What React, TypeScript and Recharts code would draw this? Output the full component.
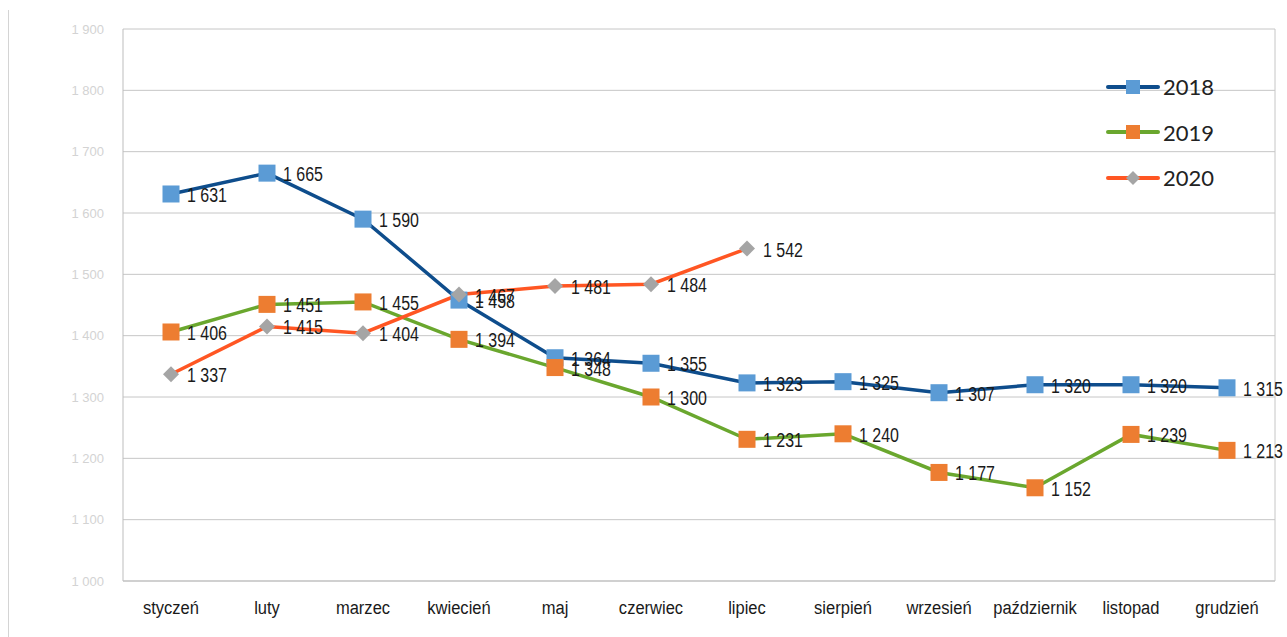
import { LineChart, Line, XAxis, YAxis, CartesianGrid, LabelList } from 'recharts';

const months = [
  'styczeń', 'luty', 'marzec', 'kwiecień', 'maj', 'czerwiec',
  'lipiec', 'sierpień', 'wrzesień', 'październik', 'listopad', 'grudzień',
];
const values2018 = [1631, 1665, 1590, 1458, 1364, 1355, 1323, 1325, 1307, 1320, 1320, 1315];
const values2019 = [1406, 1451, 1455, 1394, 1348, 1300, 1231, 1240, 1177, 1152, 1239, 1213];
const values2020 = [1337, 1415, 1404, 1467, 1481, 1484, 1542];
const yTicks = [1000, 1100, 1200, 1300, 1400, 1500, 1600, 1700, 1800, 1900];

const chartData = months.map((m, i) => ({
  month: m,
  y2018: values2018[i],
  y2019: values2019[i],
  y2020: values2020[i] ?? null,
}));

const fmt = (v: number) => {
  const s = String(v);
  return s.length > 3 ? s.slice(0, s.length - 3) + ' ' + s.slice(-3) : s;
};

const sans = '"Liberation Sans", Arial, sans-serif';

const series = [
  { key: 'y2018', name: '2018', line: '#0e4d8c', fill: '#5b9bd5', shape: 'square' },
  { key: 'y2019', name: '2019', line: '#6aa72e', fill: '#ed7d31', shape: 'square' },
  { key: 'y2020', name: '2020', line: '#ff5623', fill: '#a5a5a5', shape: 'diamond' },
];

const makeDot = (fill: string, shape: string) => (props: any) => {
  const { cx, cy, index } = props;
  if (cx == null || cy == null || props.value == null) return <g key={index} />;
  if (shape === 'diamond') {
    const r = 8;
    return (
      <path
        key={index}
        d={`M${cx},${cy - r}L${cx + r},${cy}L${cx},${cy + r}L${cx - r},${cy}Z`}
        fill={fill}
      />
    );
  }
  return <rect key={index} x={cx - 8.5} y={cy - 8.5} width={17} height={17} fill={fill} />;
};

// narrow-looking labels like the original (Arial Narrow-ish)
const renderLabel = (props: any) => {
  const { x, y, value } = props;
  if (value == null) return null;
  return (
    <text
      transform={`translate(${x + 16},${y + 8}) scale(0.82,1)`}
      fontSize={19.5}
      fontFamily={sans}
      fill="#1a1a1a"
    >
      {fmt(value)}
    </text>
  );
};

const XTick = (props: any) => {
  const { x, y, payload } = props;
  return (
    <text
      transform={`translate(${x},${y + 25}) scale(0.87,1)`}
      textAnchor="middle"
      fontSize={19}
      fontFamily={sans}
      fill="#1a1a1a"
    >
      {payload.value}
    </text>
  );
};

const LegendBox = () => (
  <div style={{ position: 'absolute', left: 1106, top: 64, display: 'flex', flexDirection: 'column' }}>
    {series.map((s) => (
      <div key={s.key} style={{ display: 'flex', alignItems: 'center', height: 45.5 }}>
        <svg width={54} height={20}>
          <line x1={2} y1={10} x2={52} y2={10} stroke={s.line} strokeWidth={4} strokeLinecap="round" />
          {s.shape === 'diamond' ? (
            <path d="M27,3L34,10L27,17L20,10Z" fill={s.fill} />
          ) : (
            <rect x={20} y={3} width={14} height={14} fill={s.fill} />
          )}
        </svg>
        <span style={{ fontFamily: 'Lato, sans-serif', fontSize: 22, color: '#222', marginLeft: 3 }}>
          {s.name}
        </span>
      </div>
    ))}
  </div>
);

export default function App() {
  return (
    <div style={{ position: 'absolute', left: 0, top: 0, width: 1287, height: 637, background: '#fff' }}>
      <div style={{ position: 'absolute', left: 8, top: 10, width: 1, height: 627, background: '#d4d4d4' }} />
      <LineChart
        width={1287}
        height={637}
        data={chartData}
        margin={{ top: 29, right: 12, left: 0, bottom: 0 }}
      >
        <CartesianGrid vertical={false} stroke="#c6c6c6" strokeWidth={1} />
        <XAxis
          dataKey="month"
          height={56}
          padding={{ left: 48, right: 48 }}
          axisLine={{ stroke: '#bdbdbd' }}
          tickLine={false}
          tick={<XTick />}
          interval={0}
        />
        <YAxis
          width={123}
          domain={[1000, 1900]}
          ticks={yTicks}
          tickFormatter={fmt}
          axisLine={{ stroke: '#bdbdbd' }}
          tickLine={false}
          tickMargin={13}
          tick={{ fontSize: 13, fill: '#d3d3d3', fontFamily: sans }}
        />
        <line x1={1275} y1={29} x2={1275} y2={581} stroke="#c6c6c6" />
        {series.map((s) => (
          <Line
            key={s.key}
            dataKey={s.key}
            name={s.name}
            type="linear"
            stroke={s.line}
            strokeWidth={3.5}
            dot={makeDot(s.fill, s.shape)}
            activeDot={false}
            isAnimationActive={false}
            connectNulls={false}
          >
            <LabelList dataKey={s.key} content={renderLabel} />
          </Line>
        ))}
      </LineChart>
      <LegendBox />
    </div>
  );
}
